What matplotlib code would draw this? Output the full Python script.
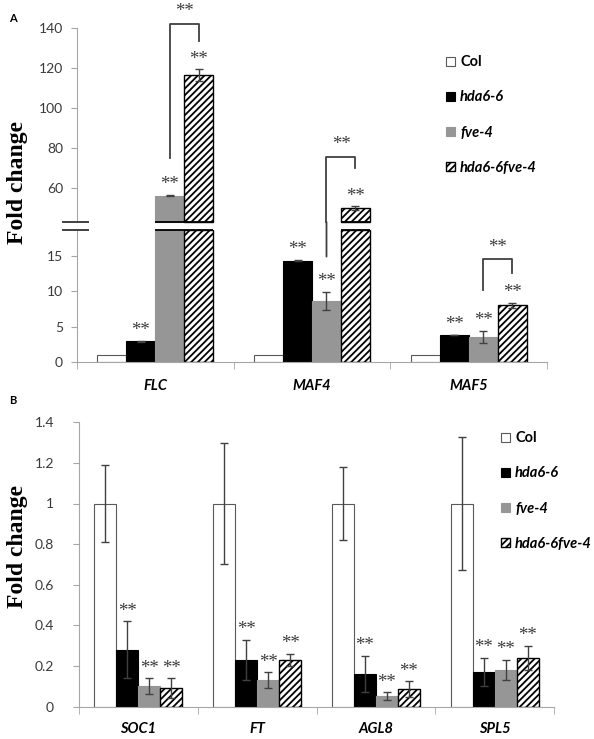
import matplotlib
matplotlib.use('Agg')
import matplotlib.pyplot as plt
from matplotlib.patches import Patch, ConnectionPatch
from matplotlib.lines import Line2D
import numpy as np

# ---- data ----
genotypes = ['Col', 'hda6-6', 'fve-4', 'hda6-6fve-4']

genes_a = ['FLC', 'MAF4', 'MAF5']
col_a = [1.0, 1.0, 1.0]
hda_a = [2.9, 14.3, 3.8]
fve_a = [56.2, 8.6, 3.55]
dbl_a = [116.5, 50.0, 8.0]
col_a_err = [0.0, 0.0, 0.0]
hda_a_err = [0.1, 0.1, 0.05]
fve_a_err = [0.4, 1.3, 0.85]
dbl_a_err = [3.0, 0.8, 0.35]

genes_b = ['SOC1', 'FT', 'AGL8', 'SPL5']
col_b = [1.0, 1.0, 1.0, 1.0]
hda_b = [0.28, 0.23, 0.16, 0.17]
fve_b = [0.10, 0.13, 0.05, 0.18]
dbl_b = [0.09, 0.23, 0.085, 0.24]
col_b_err = [0.19, 0.30, 0.18, 0.33]
hda_b_err = [0.14, 0.10, 0.09, 0.07]
fve_b_err = [0.04, 0.04, 0.02, 0.05]
dbl_b_err = [0.05, 0.03, 0.04, 0.06]

# ---- style ----
W, H = 594, 739
plt.rcParams['hatch.linewidth'] = 1.3
sans = 'Lato'
serif = 'Liberation Serif'
axis_grey = '#A6A6A6'
text_grey = '#3a3a3a'
line_dark = '#404040'

styles = [
    dict(facecolor='white', edgecolor='#595959', linewidth=0.8),
    dict(facecolor='black', edgecolor='black', linewidth=0.8),
    dict(facecolor='#969696', edgecolor='#969696', linewidth=0.8),
    dict(facecolor='white', edgecolor='black', linewidth=1.0, hatch='/////'),
]
w = 0.185
err_kw = dict(fmt='none', ecolor=line_dark, elinewidth=1.0, capsize=3, capthick=1.0)
star_kw = dict(ha='center', va='bottom', fontsize=13.5, family=serif, color=text_grey)


def box(left, top, right, bottom):
    return [left / W, 1 - bottom / H, (right - left) / W, (bottom - top) / H]


def fy(px):
    return 1 - px / H


def style_axis(ax, n, labelpad):
    for s in ['top', 'right']:
        ax.spines[s].set_visible(False)
    ax.spines['left'].set_color(axis_grey)
    ax.spines['bottom'].set_color(axis_grey)
    ax.tick_params(axis='y', colors=axis_grey, labelcolor=text_grey, length=4,
                   pad=labelpad, labelsize=10)
    for t in ax.get_yticklabels():
        t.set_fontfamily(sans)
    ax.set_xlim(-0.5, n - 0.5)


def stars(ax, x, y):
    ax.annotate('**', (x, y), xytext=(0, 1), textcoords='offset points', **star_kw)


fig = plt.figure(figsize=(W / 100, H / 100), dpi=100)

# ================= panel A (broken axis) =================
ax_hi = fig.add_axes(box(77, 28, 547, 222))
ax_lo = fig.add_axes(box(77, 230, 547, 362))
lo_top, hi_bot = 18.6, 43
ax_lo.set_ylim(0, lo_top)
ax_hi.set_ylim(hi_bot, 140)
ax_lo.set_yticks([0, 5, 10, 15])
ax_hi.set_yticks([60, 80, 100, 120, 140])
for ax in (ax_lo, ax_hi):
    style_axis(ax, len(genes_a), 6)
ax_hi.spines['bottom'].set_visible(False)
ax_hi.set_xticks([])

xa = np.arange(len(genes_a))
series_a = [(col_a, col_a_err), (hda_a, hda_a_err), (fve_a, fve_a_err), (dbl_a, dbl_a_err)]
for j, (vals, errs) in enumerate(series_a):
    xs = xa + (j - 1.5) * w
    for xi, v, e in zip(xs, vals, errs):
        ax_lo.bar(xi, min(v, lo_top), w, **styles[j])
        if v > lo_top:
            ax_lo.hlines(lo_top, xi - w / 2, xi + w / 2, color='black', lw=1.3, clip_on=False)
            ax_hi.bar(xi, v - hi_bot, w, bottom=hi_bot, clip_on=False, **styles[j])
            ax_hi.hlines(hi_bot, xi - w / 2, xi + w / 2, color='black', lw=1.3, clip_on=False)
            target = ax_hi
        else:
            target = ax_lo
        if e > 0:
            target.errorbar(xi, v, yerr=e, **err_kw)
        if j > 0:
            stars(target, xi, v + e)

ax_lo.set_xticks(xa)
ax_lo.set_xticklabels(genes_a, fontsize=10.5, fontweight='bold', style='italic',
                      family=sans, color='black')
ax_lo.set_xticks(np.arange(len(genes_a) + 1) - 0.5, minor=True)
ax_lo.tick_params(axis='x', which='major', length=0, pad=12)
ax_lo.tick_params(axis='x', which='minor', length=5, color=axis_grey)

# significance brackets between fve-4 and hda6-6fve-4
bk = dict(color=line_dark, lw=1.3, clip_on=False)
x_f, x_d = 0.5 * w, 1.5 * w
# FLC
ax_hi.plot([x_f, x_f, x_d, x_d], [75, 142, 142, 133.5], **bk)
ax_hi.text((x_f + x_d) / 2, 144, '**', **star_kw)
# MAF4 (left leg runs through the break)
ax_hi.plot([1 + x_f, 1 + x_f, 1 + x_d, 1 + x_d], [43, 75.3, 75.3, 69.8], **bk)
fig.add_artist(ConnectionPatch(xyA=(1 + x_f, hi_bot), coordsA=ax_hi.transData,
                               xyB=(1 + x_f, 14.85), coordsB=ax_lo.transData,
                               color=line_dark, lw=1.3))
ax_hi.text(1 + (x_f + x_d) / 2, 77.5, '**', **star_kw)
# MAF5
ax_lo.plot([2 + x_f, 2 + x_f, 2 + x_d, 2 + x_d], [10.1, 14.5, 14.5, 12.5], **bk)
ax_lo.text(2 + (x_f + x_d) / 2, 14.9, '**', **star_kw)

# break marks on the y axis
for ypx in (222, 230):
    fig.add_artist(Line2D([63 / W, 88 / W], [fy(ypx), fy(ypx)], color=line_dark, lw=1.4))

# ================= panel B =================
ax_b = fig.add_axes(box(79, 422.3, 554, 706.5))
ax_b.set_ylim(0, 1.4)
ax_b.set_yticks([0, 0.2, 0.4, 0.6, 0.8, 1.0, 1.2, 1.4])
ax_b.set_yticklabels(['0', '0.2', '0.4', '0.6', '0.8', '1', '1.2', '1.4'])
style_axis(ax_b, len(genes_b), 14)

xb = np.arange(len(genes_b))
series_b = [(col_b, col_b_err), (hda_b, hda_b_err), (fve_b, fve_b_err), (dbl_b, dbl_b_err)]
for j, (vals, errs) in enumerate(series_b):
    xs = xb + (j - 1.5) * w
    ax_b.bar(xs, vals, w, **styles[j])
    ax_b.errorbar(xs, vals, yerr=errs, **err_kw)
    if j > 0:
        for xi, v, e in zip(xs, vals, errs):
            stars(ax_b, xi, v + e)

ax_b.set_xticks(xb)
ax_b.set_xticklabels(genes_b, fontsize=10.5, fontweight='bold', style='italic',
                     family=sans, color='black')
ax_b.set_xticks(np.arange(len(genes_b) + 1) - 0.5, minor=True)
ax_b.tick_params(axis='x', which='major', length=0, pad=11)
ax_b.tick_params(axis='x', which='minor', length=5, color=axis_grey)

# ---- legends ----
handles = [Patch(**s) for s in styles]
for (lx, ly) in [(439, 48), (494, 424)]:
    leg = fig.legend(handles, genotypes, loc='upper left', bbox_to_anchor=(lx / W, fy(ly)),
                     frameon=False, borderpad=0, labelspacing=1.45, handlelength=0.6,
                     handleheight=0.6, handletextpad=0.35,
                     prop=dict(family=sans, weight='bold', size=10.5))
    for i, t in enumerate(leg.get_texts()):
        if i > 0:
            t.set_style('italic')

# ---- labels ----
for ycen in (182, 547):
    fig.text(18 / W, fy(ycen), 'Fold change', rotation=90, ha='center', va='center',
             fontsize=17, fontweight='bold', family=serif)
fig.text(13 / W, fy(19), 'A', ha='center', va='center', fontsize=8, fontweight='bold', family=sans)
fig.text(13 / W, fy(400), 'B', ha='center', va='center', fontsize=8, fontweight='bold', family=sans)

fig.savefig('out.png', dpi=100)
